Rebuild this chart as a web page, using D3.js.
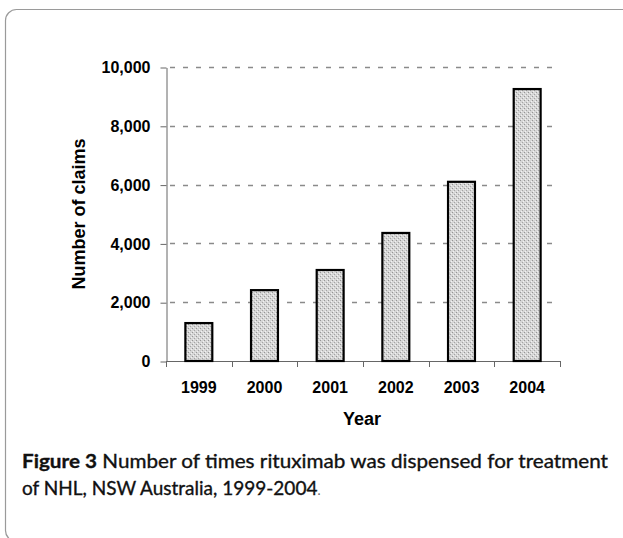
<html>
<head>
    <meta charset="utf-8">
    <title>Rituximab claims 1999-2004</title>
    <style>
        body { margin: 0; background: #fff; }
    </style>
</head>
<body>
    <script src="https://cdn.jsdelivr.net/npm/d3@7/dist/d3.min.js"></script>
    <script>
        var width = 623, height = 538;

        // data
        const years = ["1999", "2000", "2001", "2002", "2003", "2004"];
        const claims = [1290, 2410, 3095, 4355, 6095, 9250];
        const yTicks = [0, 2000, 4000, 6000, 8000, 10000];

        var svg = d3.select("body").append("svg")
            .attr("width", width)
            .attr("height", height);

        // dotted fill like the original bars
        var defs = svg.append("defs");
        var pat = defs.append("pattern")
            .attr("id", "dots")
            .attr("width", 4).attr("height", 4)
            .attr("patternUnits", "userSpaceOnUse");
        pat.append("rect").attr("width", 4).attr("height", 4).attr("fill", "#d6d6d6");
        pat.append("rect").attr("x", 0).attr("y", 0).attr("width", 1).attr("height", 1).attr("fill", "#959595");
        pat.append("rect").attr("x", 2).attr("y", 2).attr("width", 1).attr("height", 1).attr("fill", "#a4a4a4");
        pat.append("rect").attr("x", 1).attr("y", 3).attr("width", 1).attr("height", 1).attr("fill", "#f2f2f2");
        pat.append("rect").attr("x", 3).attr("y", 1).attr("width", 1).attr("height", 1).attr("fill", "#f2f2f2");

        // frame with rounded corner
        svg.append("rect")
            .attr("x", 5.5).attr("y", 9.5)
            .attr("width", 650).attr("height", 532)
            .attr("rx", 11).attr("ry", 11)
            .attr("fill", "none")
            .attr("stroke", "#9a9a9a")
            .attr("stroke-width", 1.2);

        var x = d3.scaleBand()
            .domain(years)
            .range([166, 560])
            .paddingInner(0.59)
            .paddingOuter(0.295);

        var y = d3.scaleLinear()
            .domain([0, 10000])
            .range([361, 67]);

        // dashed grid lines
        svg.append("g").selectAll("line")
            .data(yTicks.slice(1))
            .enter()
            .append("line")
            .attr("x1", 167).attr("x2", 560)
            .attr("y1", d => Math.round(y(d)) + 0.5)
            .attr("y2", d => Math.round(y(d)) + 0.5)
            .attr("stroke", "#8a8a8a")
            .attr("stroke-width", 1.3)
            .attr("stroke-dasharray", "5,8")
            .attr("stroke-dashoffset", -3);

        // y axis
        var yAxis = svg.append("g")
            .attr("transform", "translate(166.5,0.5)")
            .call(d3.axisLeft(y)
                .tickValues(yTicks)
                .tickFormat(d3.format(","))
                .tickSize(6)
                .tickSizeOuter(0)
                .tickPadding(10));
        yAxis.select(".domain").attr("stroke", "#666");
        yAxis.selectAll(".tick line").attr("stroke", "#666");
        yAxis.selectAll(".tick text")
            .attr("fill", "#000")
            .attr("font-family", "'Liberation Sans', Arial, sans-serif")
            .attr("font-weight", "bold")
            .attr("font-size", "16px");

        // x axis with ticks between the categories
        var xg = svg.append("g");
        xg.append("line")
            .attr("x1", 166).attr("x2", 560)
            .attr("y1", 361.5).attr("y2", 361.5)
            .attr("stroke", "#666");
        var bounds = years.map(d => x(d) + x.bandwidth() / 2 - x.step() / 2)
            .concat([x(years[years.length - 1]) + x.bandwidth() / 2 + x.step() / 2]);
        xg.selectAll(".xt")
            .data(bounds)
            .enter()
            .append("line")
            .attr("class", "xt")
            .attr("x1", d => Math.round(d) + 0.5).attr("x2", d => Math.round(d) + 0.5)
            .attr("y1", 361).attr("y2", 367)
            .attr("stroke", "#666");
        xg.selectAll(".xl")
            .data(years)
            .enter()
            .append("text")
            .attr("class", "xl")
            .attr("x", d => x(d) + x.bandwidth() / 2)
            .attr("y", 393)
            .attr("text-anchor", "middle")
            .attr("font-family", "'Liberation Sans', Arial, sans-serif")
            .attr("font-weight", "bold")
            .attr("font-size", "16px")
            .text(d => d);

        // bars
        svg.append("g").selectAll("rect")
            .data(claims)
            .enter()
            .append("rect")
            .attr("x", (d, i) => x(years[i]))
            .attr("y", d => y(d))
            .attr("width", x.bandwidth())
            .attr("height", d => y(0) - y(d))
            .attr("fill", "url(#dots)")
            .attr("stroke", "#000")
            .attr("stroke-width", 2.2);

        // axis titles
        svg.append("text")
            .attr("x", 362).attr("y", 425)
            .attr("text-anchor", "middle")
            .attr("font-family", "'Liberation Sans', Arial, sans-serif")
            .attr("font-weight", "bold")
            .attr("font-size", "18px")
            .text("Year");

        svg.append("text")
            .attr("transform", "translate(85,214) rotate(-90)")
            .attr("text-anchor", "middle")
            .attr("font-family", "'Liberation Sans', Arial, sans-serif")
            .attr("font-weight", "bold")
            .attr("font-size", "18px")
            .text("Number of claims");

        // caption
        var cap = svg.append("g")
            .attr("font-family", "Lato, 'Open Sans', sans-serif")
            .attr("font-size", "19px")
            .attr("fill", "#111")
            .attr("stroke", "#111")
            .attr("stroke-width", 0.35);
        var l1 = cap.append("text")
            .attr("x", 22).attr("y", 468);
        l1.append("tspan").attr("font-weight", "bold").text("Figure 3");
        l1.append("tspan").text(" Number of times rituximab was dispensed for treatment");
        l1.attr("textLength", 586).attr("lengthAdjust", "spacingAndGlyphs");

        var l2 = cap.append("text")
            .attr("x", 22).attr("y", 495);
        l2.append("tspan").text("of NHL, NSW Australia, 1999-2004");
        l2.append("tspan").attr("font-size", "13px").attr("fill", "#666")
            .attr("stroke", "none").text(".");
    </script>
</body>
</html>
